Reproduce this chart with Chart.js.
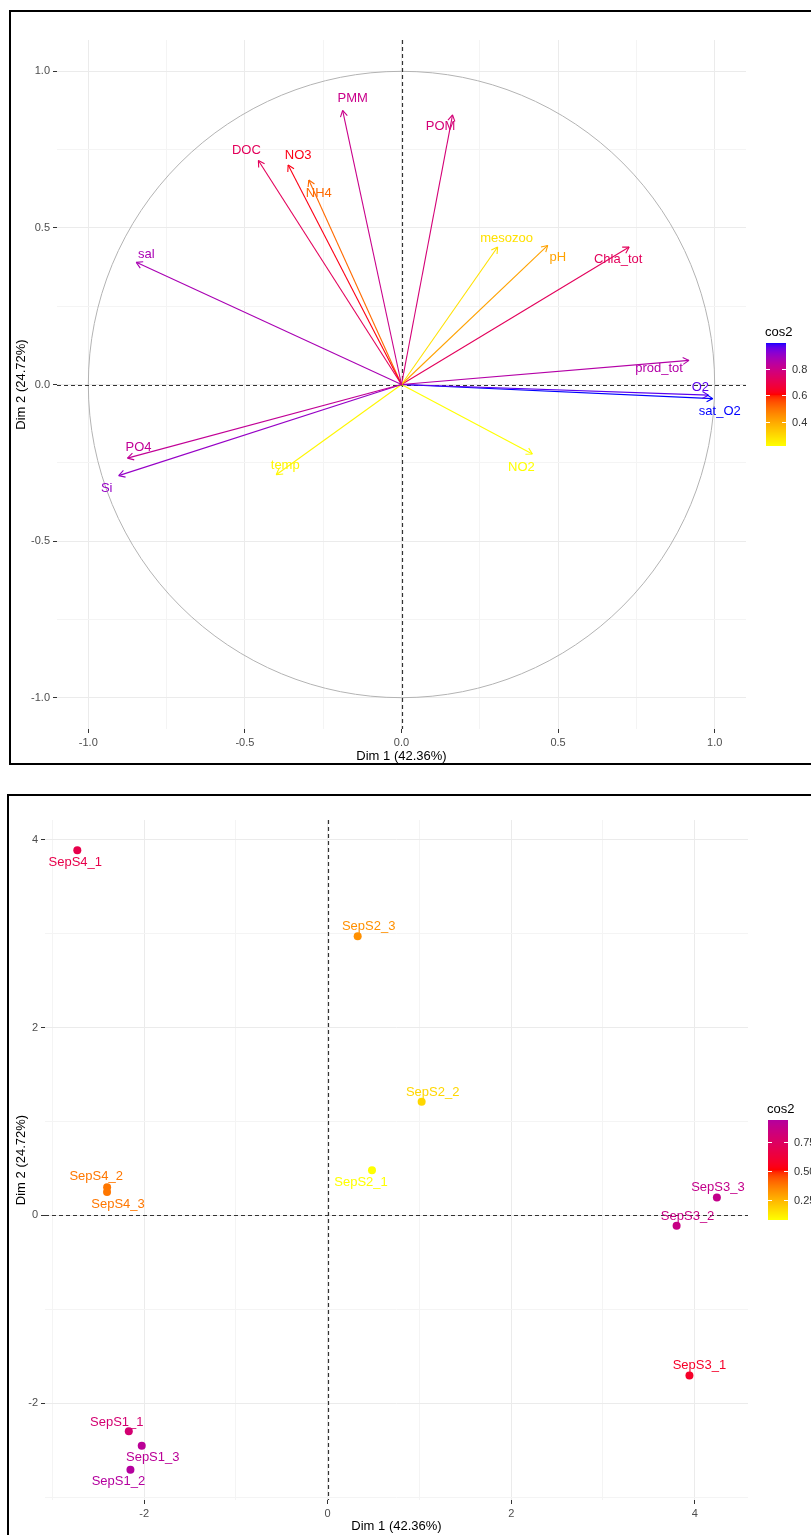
<!DOCTYPE html>
<html>
<head>
<meta charset="utf-8">
<script src="https://cdn.jsdelivr.net/npm/chart.js@4.4.1/dist/chart.umd.min.js"></script>
<style>
  html, body { margin: 0; padding: 0; background: #fff; }
  body { width: 811px; height: 1535px; position: relative; overflow: hidden; }
  canvas { position: absolute; left: 0; }
  #pcaVar { top: 0; }
  #pcaInd { top: 780px; }
  .frame { position: absolute; border: 2px solid #000; box-sizing: border-box; pointer-events: none; }
  #frameVar { left: 9px; top: 10px; width: 900px; height: 755px; }
  #frameInd { left: 7px; top: 794px; width: 900px; height: 743px; }
</style>
</head>
<body>
<canvas id="pcaVar" width="811" height="770"></canvas>
<canvas id="pcaInd" width="811" height="755"></canvas>
<div class="frame" id="frameVar"></div>
<div class="frame" id="frameInd"></div>
<script>
/* ---- variables (correlation circle) ---- */
const varNames = ['PMM', 'POM', 'DOC', 'NO3', 'NH4', 'sal', 'mesozoo', 'pH', 'Chla_tot', 'prod_tot', 'O2', 'sat_O2', 'NO2', 'PO4', 'Si', 'temp'];
const varDim1 = [-0.188, 0.163, -0.457, -0.362, -0.296, -0.847, 0.307, 0.467, 0.727, 0.918, 0.980, 0.994, 0.418, -0.875, -0.903, -0.400];
const varDim2 = [0.875, 0.861, 0.715, 0.701, 0.653, 0.390, 0.439, 0.444, 0.439, 0.077, -0.034, -0.045, -0.222, -0.235, -0.291, -0.288];
const varTickValues = [-1, -0.75, -0.5, -0.25, 0, 0.25, 0.5, 0.75, 1];
const varTickLabels = ['-1.0', '', '-0.5', '', '0.0', '', '0.5', '', '1.0'];
const varLegendTicks = [0.4, 0.6, 0.8];
const varLegendLabels = ['0.4', '0.6', '0.8'];

/* ---- individuals ---- */
const indNames = ['SepS1_1', 'SepS1_2', 'SepS1_3', 'SepS2_1', 'SepS2_2', 'SepS2_3', 'SepS3_1', 'SepS3_2', 'SepS3_3', 'SepS4_1', 'SepS4_2', 'SepS4_3'];
const indDim1 = [-2.167, -2.149, -2.026, 0.483, 1.024, 0.327, 3.942, 3.802, 4.241, -2.728, -2.403, -2.404];
const indDim2 = [-2.297, -2.708, -2.453, 0.482, 1.211, 2.971, -1.704, -0.110, 0.192, 3.887, 0.301, 0.248];
const indCos2 = [0.80, 0.944, 0.92, 0.076, 0.17, 0.33, 0.58, 0.86, 0.88, 0.68, 0.38, 0.38];
const indTickValues = [-3, -2, -1, 0, 1, 2, 3, 4];
const indTickLabels = ['', '-2', '', '0', '', '2', '', '4'];
const indLegendTicks = [0.25, 0.5, 0.75];
const indLegendLabels = ['0.25', '0.50', '0.75'];

const dim1Title = 'Dim 1 (42.36%)';
const dim2Title = 'Dim 2 (24.72%)';

/* ---- label nudges (pixels) ---- */
const varLabelNudge = [[10, -12], [-12, 12], [-12, -10], [10, -10], [10, 13], [10, -8], [9, -9], [10, 12],
  [-11, 12], [-30, 8], [-8, -8], [7, 13], [-11, 13], [11, -11], [-12, 13], [9, -9]];
const indLabelNudge = [[-12, -9], [-12, 12], [11, 12], [-11, 12], [11, -9], [11, -10], [10, -10], [11, -9],
  [1, -10], [-2, 12], [-11, -11], [11, 12]];

const FONT = '"Liberation Sans", Arial, sans-serif';
Chart.defaults.font.family = FONT;

/* ---- colour ramp in Lab, like ggplot ---- */
function hexToRgb(h) {
  const n = parseInt(h.slice(1), 16);
  return [(n >> 16) & 255, (n >> 8) & 255, n & 255];
}
function toLin(c) { c /= 255; return c <= 0.04045 ? c / 12.92 : Math.pow((c + 0.055) / 1.055, 2.4); }
function fromLin(c) {
  const v = c <= 0.0031308 ? 12.92 * c : 1.055 * Math.pow(c, 1 / 2.4) - 0.055;
  return Math.round(Math.max(0, Math.min(1, v)) * 255);
}
function rgbToLab(rgb) {
  const [r, g, b] = rgb.map(toLin);
  const X = (0.4124 * r + 0.3576 * g + 0.1805 * b) / 0.95047;
  const Y = 0.2126 * r + 0.7152 * g + 0.0722 * b;
  const Z = (0.0193 * r + 0.1192 * g + 0.9505 * b) / 1.08883;
  const f = t => t > 0.008856 ? Math.cbrt(t) : 7.787 * t + 16 / 116;
  const fx = f(X), fy = f(Y), fz = f(Z);
  return [116 * fy - 16, 500 * (fx - fy), 200 * (fy - fz)];
}
function labToRgb(lab) {
  const fy = (lab[0] + 16) / 116, fx = fy + lab[1] / 500, fz = fy - lab[2] / 200;
  const inv = t => t * t * t > 0.008856 ? t * t * t : (t - 16 / 116) / 7.787;
  const X = inv(fx) * 0.95047, Y = inv(fy), Z = inv(fz) * 1.08883;
  const r = 3.2406 * X - 1.5372 * Y - 0.4986 * Z;
  const g = -0.9689 * X + 1.8758 * Y + 0.0415 * Z;
  const b = 0.0557 * X - 0.2040 * Y + 1.0570 * Z;
  return [fromLin(r), fromLin(g), fromLin(b)];
}
function makeRamp(stops, min, max) {
  const labs = stops.map(s => rgbToLab(hexToRgb(s)));
  return v => {
    let t = (v - min) / (max - min);
    t = Math.max(0, Math.min(1, t)) * (labs.length - 1);
    const i = Math.min(Math.floor(t), labs.length - 2);
    const f = t - i;
    const lab = labs[i].map((c, k) => c + (labs[i + 1][k] - c) * f);
    const rgb = labToRgb(lab);
    return `rgb(${rgb[0]},${rgb[1]},${rgb[2]})`;
  };
}

const varCos2 = varDim1.map((x, i) => x * x + varDim2[i] * varDim2[i]);
const varRamp = makeRamp(['#FFFF00', '#FF0000', '#0000FF'], Math.min(...varCos2), Math.max(...varCos2));
const varColors = varCos2.map(varRamp);
const indRamp = makeRamp(['#FFFF00', '#FF0000', '#B4009E'], Math.min(...indCos2), Math.max(...indCos2));
const indColors = indCos2.map(indRamp);

/* ---- axes ---- */
function axis(min, max, values, labels, title, sizeKey, size, titlePad) {
  return {
    type: 'linear',
    min: min,
    max: max,
    afterBuildTicks: s => { s.ticks = values.map(v => ({ value: v })); },
    afterFit: s => { s[sizeKey] = size; },
    ticks: {
      autoSkip: false, maxRotation: 0, padding: 3, color: '#4d4d4d',
      font: { size: 11 },
      callback: (v, i) => labels[i]
    },
    grid: {
      color: c => labels[c.index] ? '#ebebeb' : '#f4f4f4',
      lineWidth: 1,
      drawTicks: true,
      tickLength: 4,
      tickWidth: 1,
      tickColor: c => labels[c.index] ? '#333333' : 'rgba(0,0,0,0)'
    },
    border: { display: false },
    title: { display: true, text: title, color: '#000', font: { size: 13 }, padding: titlePad }
  };
}

/* ---- plugins ---- */
const refLines = {
  id: 'refLines',
  beforeDatasetsDraw(chart, args, opts) {
    const { ctx, chartArea: a, scales: { x, y } } = chart;
    ctx.save();
    if (opts.circle) {
      const cx = x.getPixelForValue(0), cy = y.getPixelForValue(0);
      const rx = x.getPixelForValue(1) - cx, ry = cy - y.getPixelForValue(1);
      ctx.strokeStyle = '#b3b3b3';
      ctx.lineWidth = 1;
      ctx.beginPath();
      ctx.ellipse(cx, cy, rx, ry, 0, 0, Math.PI * 2);
      ctx.stroke();
    }
    ctx.strokeStyle = '#333';
    ctx.lineWidth = 1.2;
    ctx.setLineDash([4, 3]);
    const px = Math.round(x.getPixelForValue(0)) + 0.5;
    const py = Math.round(y.getPixelForValue(0)) + 0.5;
    ctx.beginPath();
    ctx.moveTo(px, a.top); ctx.lineTo(px, a.bottom);
    ctx.moveTo(a.left, py); ctx.lineTo(a.right, py);
    ctx.stroke();
    ctx.restore();
  }
};

const arrowHeads = {
  id: 'arrowHeads',
  afterDatasetsDraw(chart, args, opts) {
    if (!opts.on) return;
    const ctx = chart.ctx;
    ctx.save();
    chart.data.datasets.forEach((ds, i) => {
      const m = chart.getDatasetMeta(i);
      const p0 = m.data[0], p1 = m.data[1];
      const ang = Math.atan2(p1.y - p0.y, p1.x - p0.x);
      ctx.strokeStyle = ds.borderColor;
      ctx.lineWidth = 1.1;
      ctx.beginPath();
      [-1, 1].forEach(s => {
        ctx.moveTo(p1.x, p1.y);
        ctx.lineTo(p1.x - 7 * Math.cos(ang + s * Math.PI / 6), p1.y - 7 * Math.sin(ang + s * Math.PI / 6));
      });
      ctx.stroke();
    });
    ctx.restore();
  }
};

const pointLabels = {
  id: 'pointLabels',
  afterDatasetsDraw(chart, args, opts) {
    const ctx = chart.ctx;
    ctx.save();
    ctx.font = '13px ' + FONT;
    ctx.textAlign = 'center';
    ctx.textBaseline = 'middle';
    opts.names.forEach((name, i) => {
      const el = opts.perDataset ? chart.getDatasetMeta(i).data[1] : chart.getDatasetMeta(0).data[i];
      ctx.fillStyle = opts.colors[i];
      ctx.fillText(name, el.x + opts.nudge[i][0], el.y + opts.nudge[i][1]);
    });
    ctx.restore();
  }
};

const colorBar = {
  id: 'colorBar',
  afterDraw(chart, args, o) {
    const ctx = chart.ctx;
    ctx.save();
    ctx.font = '13px ' + FONT;
    ctx.fillStyle = '#000';
    ctx.textAlign = 'left';
    ctx.textBaseline = 'middle';
    ctx.fillText('cos2', o.x - 1, o.top - 11);
    for (let k = 0; k < o.height; k++) {
      const v = o.max - (k + 0.5) / o.height * (o.max - o.min);
      ctx.fillStyle = o.ramp(v);
      ctx.fillRect(o.x, o.top + k, o.width, 1);
    }
    ctx.font = '11px ' + FONT;
    o.ticks.forEach((t, i) => {
      const py = Math.round(o.top + (o.max - t) / (o.max - o.min) * o.height) + 0.5;
      ctx.strokeStyle = '#fff';
      ctx.lineWidth = 1;
      ctx.beginPath();
      ctx.moveTo(o.x, py); ctx.lineTo(o.x + 4, py);
      ctx.moveTo(o.x + o.width - 4, py); ctx.lineTo(o.x + o.width, py);
      ctx.stroke();
      ctx.fillStyle = '#333';
      ctx.fillText(o.labels[i], o.x + o.width + 6, py);
    });
    ctx.restore();
  }
};

/* ---- chart 1: variables ---- */
new Chart(document.getElementById('pcaVar'), {
  type: 'scatter',
  data: {
    datasets: varNames.map((n, i) => ({
      label: n,
      data: [{ x: 0, y: 0 }, { x: varDim1[i], y: varDim2[i] }],
      showLine: true,
      borderColor: varColors[i],
      borderWidth: 1.1,
      pointRadius: 0,
      fill: false
    }))
  },
  options: {
    responsive: false,
    devicePixelRatio: 1,
    animation: false,
    layout: { padding: { left: 12, right: 65, top: 40, bottom: 5 } },
    scales: {
      x: axis(-1.1, 1.1, varTickValues, varTickLabels, dim1Title, 'height', 36, { top: 0, bottom: 1 }),
      y: axis(-1.1, 1.1, varTickValues, varTickLabels, dim2Title, 'width', 45, { top: 2, bottom: 0 })
    },
    plugins: {
      legend: { display: false },
      tooltip: { enabled: false },
      refLines: { circle: true },
      arrowHeads: { on: true },
      pointLabels: { names: varNames, colors: varColors, nudge: varLabelNudge, perDataset: true },
      colorBar: {
        x: 766, top: 343, width: 20, height: 103,
        min: Math.min(...varCos2), max: Math.max(...varCos2), ramp: varRamp,
        ticks: varLegendTicks, labels: varLegendLabels
      }
    }
  },
  plugins: [refLines, arrowHeads, pointLabels, colorBar]
});

/* ---- chart 2: individuals ---- */
new Chart(document.getElementById('pcaInd'), {
  type: 'scatter',
  data: {
    datasets: [{
      label: 'individuals',
      data: indNames.map((n, i) => ({ x: indDim1[i], y: indDim2[i] })),
      pointRadius: 4,
      pointBackgroundColor: indColors,
      pointBorderColor: indColors,
      pointBorderWidth: 0
    }]
  },
  options: {
    responsive: false,
    devicePixelRatio: 1,
    animation: false,
    layout: { padding: { left: 12, right: 63, top: 40, bottom: 1 } },
    scales: {
      x: axis(-3.08, 4.58, indTickValues, indTickLabels, dim1Title, 'height', 34, { top: 0, bottom: 0 }),
      y: axis(-3.03, 4.21, indTickValues, indTickLabels, dim2Title, 'width', 33, { top: 2, bottom: 0 })
    },
    plugins: {
      legend: { display: false },
      tooltip: { enabled: false },
      refLines: { circle: false },
      arrowHeads: { on: false },
      pointLabels: { names: indNames, colors: indColors, nudge: indLabelNudge, perDataset: false },
      colorBar: {
        x: 768, top: 340, width: 20, height: 100,
        min: Math.min(...indCos2), max: Math.max(...indCos2), ramp: indRamp,
        ticks: indLegendTicks, labels: indLegendLabels
      }
    }
  },
  plugins: [refLines, arrowHeads, pointLabels, colorBar]
});
</script>
</body>
</html>
